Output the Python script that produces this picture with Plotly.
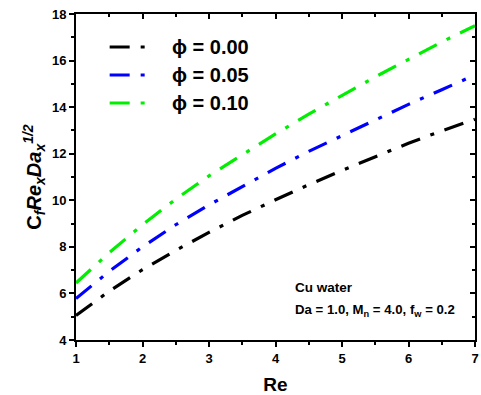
import plotly.graph_objects as go

# ---- data ----
re_vals = [1, 1.5, 2, 2.5, 3, 3.5, 4, 4.5, 5, 5.5, 6, 6.5, 7]
phi_000 = [5.05, 6.10, 7.02, 7.85, 8.62, 9.35, 10.02, 10.67, 11.28, 11.87, 12.45, 12.98, 13.48]
phi_005 = [5.78, 6.95, 8.00, 8.95, 9.80, 10.60, 11.37, 12.10, 12.78, 13.45, 14.12, 14.75, 15.38]
phi_010 = [6.45, 7.75, 8.95, 10.05, 11.05, 11.95, 12.85, 13.70, 14.50, 15.30, 16.05, 16.80, 17.50]
series_names = ["ϕ = 0.00", "ϕ = 0.05", "ϕ = 0.10"]
series_colors = ["#000000", "#0000ff", "#00ee00"]
series_data = [phi_000, phi_005, phi_010]
x_ticks = [1, 2, 3, 4, 5, 6, 7]
y_ticks = [4, 6, 8, 10, 12, 14, 16, 18]

W, H = 481, 395
ML, MR, MT, MB = 76, 2, 14, 55
PW, PH = W - ML - MR, H - MT - MB

def px2paper_x(px):
    return (px - ML) / PW

def px2paper_y(py):
    return (H - MB - py) / PH

DASH = "20px,11px,4px,11px"
FONT = "Liberation Sans, Arial, sans-serif"

fig = go.Figure()
for name, col, ys in zip(series_names, series_colors, series_data):
    fig.add_trace(go.Scatter(x=re_vals, y=ys, mode="lines", name=name,
                             line=dict(color=col, width=3.2, dash=DASH),
                             showlegend=False))

# invisible trace to activate mirror axes
fig.add_trace(go.Scatter(x=re_vals, y=phi_000, xaxis="x2", yaxis="y2",
                         mode="lines", line=dict(width=0), opacity=0,
                         hoverinfo="skip", showlegend=False))

shapes = []
annotations = []
legend_y_px = [47, 75, 103]
for name, col, py in zip(series_names, series_colors, legend_y_px):
    shapes.append(dict(type="line", xref="paper", yref="paper",
                       x0=px2paper_x(110), x1=px2paper_x(150),
                       y0=px2paper_y(py), y1=px2paper_y(py),
                       line=dict(color=col, width=3.2, dash=DASH)))
    annotations.append(dict(xref="paper", yref="paper", x=px2paper_x(171),
                            y=px2paper_y(py), xanchor="left", yanchor="middle",
                            text="<b>" + name + "</b>", showarrow=False,
                            font=dict(family=FONT, size=20, color="black")))

annotations.append(dict(xref="paper", yref="paper", x=px2paper_x(295),
                        y=px2paper_y(287), xanchor="left", yanchor="middle",
                        text="<b>Cu water</b>", showarrow=False,
                        font=dict(family=FONT, size=13.5, color="black")))
annotations.append(dict(xref="paper", yref="paper", x=px2paper_x(295),
                        y=px2paper_y(310), xanchor="left", yanchor="middle",
                        text="<b>Da = 1.0, M<sub>n</sub> = 4.0, f<sub>w</sub> = 0.2</b>",
                        showarrow=False,
                        font=dict(family=FONT, size=13.2, color="black")))

axis_common = dict(showline=True, linecolor="black", linewidth=2,
                   showgrid=False, zeroline=False)

fig.update_layout(
    width=W, height=H,
    margin=dict(l=ML, r=MR, t=MT, b=MB),
    paper_bgcolor="white", plot_bgcolor="white",
    showlegend=False,
    shapes=shapes, annotations=annotations,
    xaxis=dict(range=[1, 7], tickvals=x_ticks, ticks="outside", ticklen=5,
               tickwidth=2, tickcolor="black", ticklabeloverflow="allow",
               minor=dict(dtick=0.5, tick0=1, ticks="outside", ticklen=3,
                          tickwidth=2, tickcolor="black"),
               tickfont=dict(family=FONT, size=13, color="black", weight="bold"),
               title=dict(text="<b>Re</b>", standoff=14,
                          font=dict(family=FONT, size=19, color="black")),
               **axis_common),
    yaxis=dict(range=[4, 18], tickvals=y_ticks, ticks="outside", ticklen=5,
               tickwidth=2, tickcolor="black",
               minor=dict(dtick=1, tick0=4, ticks="outside", ticklen=3,
                          tickwidth=2, tickcolor="black"),
               tickfont=dict(family=FONT, size=13, color="black", weight="bold"),
               title=dict(text="<b>C<sub><i>f</i></sub><i>Re</i><sub><i>x</i></sub><i>Da</i><sub><i>x</i></sub><sup><i>1/2</i></sup></b>",
                          standoff=5,
                          font=dict(family=FONT, size=20, color="black")),
               **axis_common),
    xaxis2=dict(range=[1, 7], overlaying="x", side="top", anchor="y",
                tickvals=x_ticks, ticks="inside", ticklen=5, tickwidth=2,
                tickcolor="black", showticklabels=False,
                minor=dict(dtick=0.5, tick0=1, ticks="inside", ticklen=3,
                           tickwidth=2, tickcolor="black"),
                **axis_common),
    yaxis2=dict(range=[4, 18], overlaying="y", side="right", anchor="x",
                tickvals=y_ticks, ticks="inside", ticklen=5, tickwidth=2,
                tickcolor="black", showticklabels=False,
                minor=dict(dtick=1, tick0=4, ticks="inside", ticklen=3,
                           tickwidth=2, tickcolor="black"),
                **axis_common),
)

fig.write_html("out.html")
